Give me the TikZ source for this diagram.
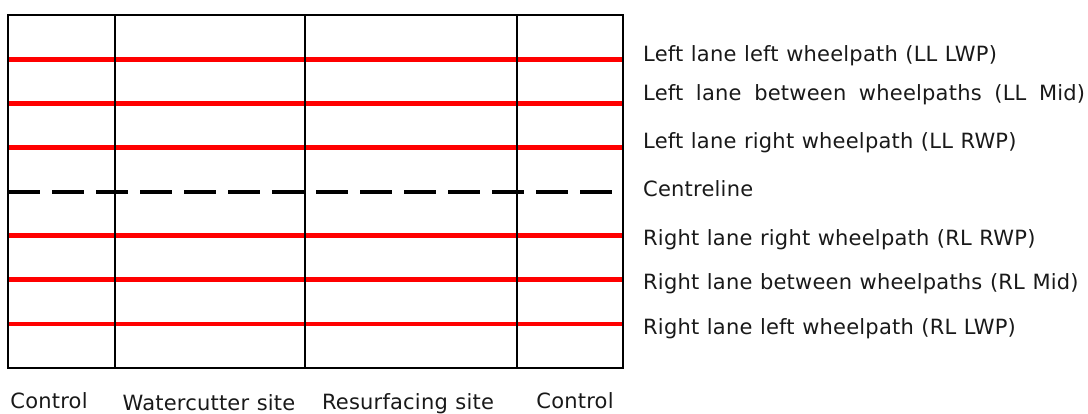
\documentclass[tikz,border=0pt]{standalone}
\usepackage{fontspec}
\setmainfont{DejaVu Sans}[LetterSpace=1,WordSpace=1.1]
\begin{document}
\begin{tikzpicture}[x=1pt,y=-1pt,
  frame/.style={draw=black,line width=2pt},
  lane/.style={draw=red,line width=4.8pt},
  centre/.style={draw=black,line width=4pt,dash pattern=on 32pt off 12pt},
  lbl/.style={anchor=base west,inner sep=0pt,font=\fontsize{21}{25}\selectfont,text=black!90},
  site/.style={anchor=base,inner sep=0pt,font=\fontsize{21}{25}\selectfont,text=black!90}]
\useasboundingbox (0,0) rectangle (1088,413);

% lane lines across the test strip
\foreach \y/\n in {59.3/a,103.4/b,147.5/c,235.7/e,279.8/f,323.9/g}{
  \coordinate (\n-w) at (8,\y);
  \coordinate (\n-e) at (623,\y);
  \draw[lane] (\n-w) -- (\n-e);
}
\coordinate (d-w) at (8,191.6);
\coordinate (d-e) at (612,191.6);
\draw[centre] (d-w) -- (d-e);

% outline and section dividers
\coordinate (nw) at (8,15);
\coordinate (se) at (623,368);
\draw[frame] (nw) rectangle (se);
\foreach \x/\n in {115/s1,305/s2,517/s3}{
  \coordinate (\n-t) at (\x,15);
  \coordinate (\n-b) at (\x,368);
  \draw[frame] (\n-t) -- (\n-b);
}

% path labels
\node[lbl] (la) at (643,61.7) {Left lane left wheelpath (LL LWP)};
\node[lbl] (lb) at (643,100) {\makebox[442pt][s]{Left lane between wheelpaths (LL Mid)}};
\node[lbl] (lc) at (643,148) {Left lane right wheelpath (LL RWP)};
\node[lbl] (ld) at (643,196.7) {Centreline};
\node[lbl] (le) at (643,245.5) {Right lane right wheelpath (RL RWP)};
\node[lbl] (lf) at (643,289) {Right lane between wheelpaths (RL Mid)};
\node[lbl] (lg) at (643,334) {Right lane left wheelpath (RL LWP)};

% section labels
\node[site] (c1) at (49,408) {Control};
\node[site] (wc) at (209,410) {Watercutter site};
\node[site] (rs) at (408,409) {Resurfacing site};
\node[site] (c2) at (575,408) {Control};
\end{tikzpicture}
\end{document}
